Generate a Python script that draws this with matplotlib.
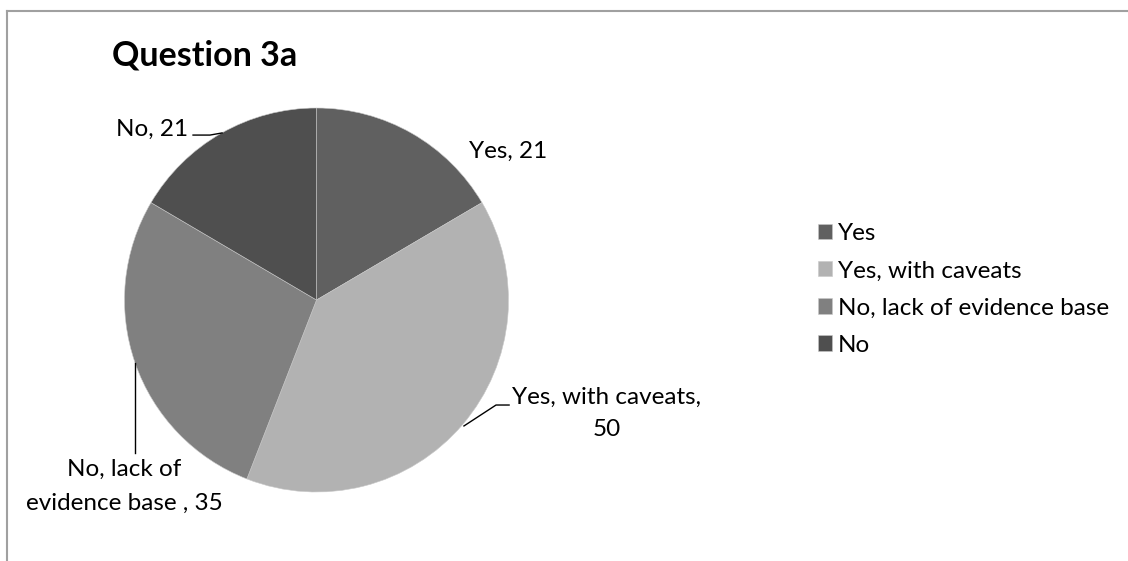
import matplotlib
matplotlib.use("Agg")
import matplotlib.pyplot as plt
from matplotlib.lines import Line2D

plt.rcParams['font.family'] = ['Lato', 'DejaVu Sans']

# data
categories = ["Yes", "Yes, with caveats", "No, lack of evidence base", "No"]
values = [21, 50, 35, 21]
label_texts = ["Yes, 21", "Yes, with caveats,\n50", "No, lack of\nevidence base , 35", "No, 21"]
colors = ["#606060", "#b2b2b2", "#808080", "#4f4f4f"]

W, H = 1128, 561
fig = plt.figure(figsize=(W / 100, H / 100), dpi=100)

# pie axes in pixel terms: centre (316.5, 300), radius 192
cx, cy, r = 316.5, 300, 192
ax = fig.add_axes([(cx - r) / W, (H - cy - r) / H, 2 * r / W, 2 * r / H])
wedges, _ = ax.pie(values, colors=colors, startangle=90, counterclock=False,
                   radius=1, wedgeprops=dict(linewidth=0.4, edgecolor="#c8c8c8"))
ax.set_xlim(-1, 1)
ax.set_ylim(-1, 1)
ax.set_aspect("equal")
ax.axis("off")

fs = 17.5
# data labels with leader lines
ax.text(0.794, 0.776, label_texts[0], ha="left", va="center", fontsize=fs)
ax.text(-0.669, 0.888, label_texts[3], ha="right", va="center", fontsize=fs)
ax.plot([-0.643, -0.555, -0.492], [0.859, 0.859, 0.870], color="black", lw=1, clip_on=False)
ax.text(1.510, -0.589, label_texts[1], ha="center", va="center", fontsize=fs,
        multialignment="center", linespacing=1.67)
ax.plot([0.768, 0.935, 1.003], [-0.656, -0.547, -0.547], color="black", lw=1, clip_on=False)
ax.text(-1.003, -0.971, label_texts[2], ha="center", va="center", fontsize=fs,
        multialignment="center", linespacing=1.72)
ax.plot([-0.945, -0.945], [-0.328, -0.797], color="black", lw=1, clip_on=False)

# title
fig.text(112 / W, 1 - 55 / H, "Question 3a", ha="left", va="center",
         fontsize=24.5, fontweight="bold")

# legend
fig.legend(wedges, categories, loc="center left", bbox_to_anchor=(818 / W, 1 - 289.5 / H),
           frameon=False, fontsize=fs, handlelength=0.58, handleheight=0.58,
           handletextpad=0.25, labelspacing=0.66, borderpad=0, borderaxespad=0)

# chart area border (top and left)
fig.add_artist(Line2D([7 / W, 1], [1 - 10.5 / H, 1 - 10.5 / H], color="#a0a0a0", lw=1.5,
                      transform=fig.transFigure))
fig.add_artist(Line2D([7 / W, 7 / W], [0, 1 - 10.5 / H], color="#a0a0a0", lw=1.5,
                      transform=fig.transFigure))

fig.savefig("out.png", dpi=100)
